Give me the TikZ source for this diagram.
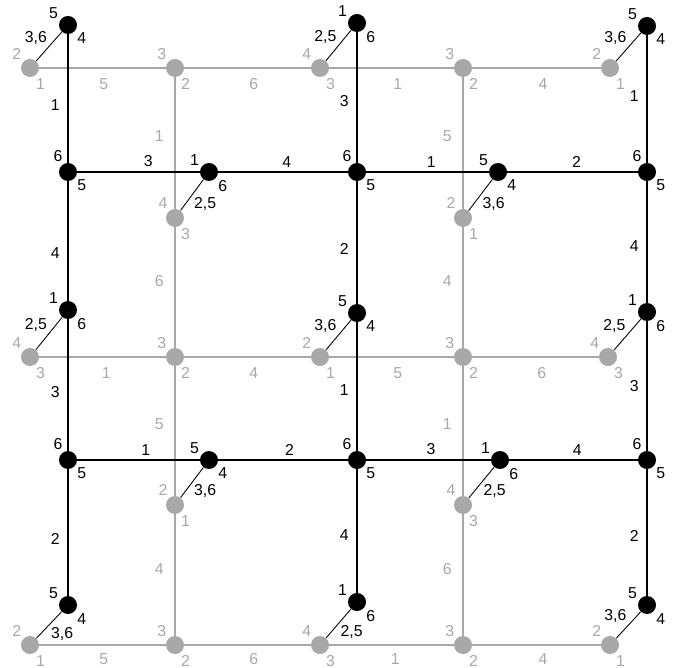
\documentclass[tikz,border=0pt]{standalone}
\usepackage{fontspec}
\setmainfont{Liberation Sans}
\definecolor{backgray}{gray}{0.66}

\begin{document}
\begin{tikzpicture}[
        x=0.02cm, y=-0.02cm,
        font=\fontsize{9}{10.5}\selectfont,
        bnode/.style={circle, fill=black, inner sep=0pt, minimum size=18*0.02cm},
        gnode/.style={circle, fill=backgray, inner sep=0pt, minimum size=18*0.02cm},
        port/.style={inner sep=1pt, label distance=0pt},
        gport/.style={port, text=backgray},
        bline/.style={line width=0.6pt},
        gline/.style={line width=1pt, backgray},
        diag/.style={line width=0.5pt},
        blab/.style={inner sep=1pt},
        glab/.style={inner sep=1pt, text=backgray}
    ]
    \useasboundingbox (0,0) rectangle (682,668);

    % back layer (gray)
    \node[gnode, label={[gport]135:2}, label={[gport]-65:1}] (g00) at (30,68) {};
    \node[gnode, label={[gport]135:3}, label={[gport]-65:2}] (g10) at (175,68) {};
    \node[gnode, label={[gport]135:4}, label={[gport]-65:3}] (g20) at (320,68) {};
    \node[gnode, label={[gport]135:3}, label={[gport]-65:2}] (g30) at (463,68) {};
    \node[gnode, label={[gport]135:2}, label={[gport]-65:1}] (g40) at (610,68) {};
    \node[gnode, label={[gport]125:4}, label={[gport]-65:3}] (g11) at (175,218) {};
    \node[gnode, label={[gport]125:2}, label={[gport]-65:1}] (g31) at (463,218) {};
    \node[gnode, label={[gport]135:4}, label={[gport]-65:3}] (g02) at (30,357) {};
    \node[gnode, label={[gport]135:3}, label={[gport]-65:2}] (g12) at (175,357) {};
    \node[gnode, label={[gport]135:2}, label={[gport]-65:1}] (g22) at (320,357) {};
    \node[gnode, label={[gport]135:3}, label={[gport]-65:2}] (g32) at (463,357) {};
    \node[gnode, label={[gport]135:4}, label={[gport]-65:3}] (g42) at (608,357) {};
    \node[gnode, label={[gport]125:2}, label={[gport]-65:1}] (g13) at (175,505) {};
    \node[gnode, label={[gport]125:4}, label={[gport]-65:3}] (g33) at (463,505) {};
    \node[gnode, label={[gport]135:2}, label={[gport]-65:1}] (g04) at (30,645) {};
    \node[gnode, label={[gport]135:3}, label={[gport]-65:2}] (g14) at (175,645) {};
    \node[gnode, label={[gport]135:4}, label={[gport]-65:3}] (g24) at (320,645) {};
    \node[gnode, label={[gport]135:3}, label={[gport]-65:2}] (g34) at (463,645) {};
    \node[gnode, label={[gport]135:2}, label={[gport]-65:1}] (g44) at (610,645) {};

    % front layer (black)
    \node[bnode, label={[port]150:5}, label={[port]-40:4}] (b00) at (68,25) {};
    \node[bnode, label={[port]150:1}, label={[port]-40:6}] (b20) at (357,23) {};
    \node[bnode, label={[port]150:5}, label={[port]-40:4}] (b40) at (647,26) {};
    \node[bnode, label={[port]112:6}, label={[port]-40:5}] (b01) at (68,172) {};
    \node[bnode, label={[port]150:1}, label={[port]-40:6}] (b11) at (209,172) {};
    \node[bnode, label={[port]112:6}, label={[port]-40:5}] (b21) at (357,172) {};
    \node[bnode, label={[port]150:5}, label={[port]-40:4}] (b31) at (498,172) {};
    \node[bnode, label={[port]112:6}, label={[port]-40:5}] (b41) at (647,172) {};
    \node[bnode, label={[port]150:1}, label={[port]-40:6}] (b02) at (68,310) {};
    \node[bnode, label={[port]150:5}, label={[port]-40:4}] (b22) at (357,313) {};
    \node[bnode, label={[port]150:1}, label={[port]-40:6}] (b42) at (647,312) {};
    \node[bnode, label={[port]112:6}, label={[port]-40:5}] (b03) at (68,460) {};
    \node[bnode, label={[port]150:5}, label={[port]-40:4}] (b13) at (209,460) {};
    \node[bnode, label={[port]112:6}, label={[port]-40:5}] (b23) at (357,460) {};
    \node[bnode, label={[port]150:1}, label={[port]-40:6}] (b33) at (500,460) {};
    \node[bnode, label={[port]112:6}, label={[port]-40:5}] (b43) at (647,460) {};
    \node[bnode, label={[port]150:5}, label={[port]-40:4}] (b04) at (68,605) {};
    \node[bnode, label={[port]150:1}, label={[port]-40:6}] (b24) at (357,602) {};
    \node[bnode, label={[port]150:5}, label={[port]-40:4}] (b44) at (647,605) {};

    % gray rows and columns
    \draw[gline] (g00) -- node[glab, below=4.5pt, pos=.51] {5} (g10)
        -- node[glab, below=4.5pt, pos=.55] {6} (g20)
        -- node[glab, below=4.5pt, pos=.55] {1} (g30)
        -- node[glab, below=4.5pt, pos=.55] {4} (g40);
    \draw[gline] (g02) -- node[glab, below=4.5pt, pos=.53] {1} (g12)
        -- node[glab, below=4.5pt, pos=.55] {4} (g22)
        -- node[glab, below=4.5pt, pos=.55] {5} (g32)
        -- node[glab, below=4.5pt, pos=.55] {6} (g42);
    \draw[gline] (g04) -- node[glab, below=3.5pt, pos=.51] {5} (g14)
        -- node[glab, below=3.5pt, pos=.55] {6} (g24)
        -- node[glab, below=3.5pt, pos=.53] {1} (g34)
        -- node[glab, below=3.5pt, pos=.55] {4} (g44);
    \draw[gline] (g10) -- node[glab, left=5pt, pos=.45] {1} (g11)
        -- node[glab, left=5pt, pos=.45] {6} (g12)
        -- node[glab, left=5pt, pos=.45] {5} (g13)
        -- node[glab, left=5pt, pos=.45] {4} (g14);
    \draw[gline] (g30) -- node[glab, left=5pt, pos=.45] {5} (g31)
        -- node[glab, left=5pt, pos=.45] {4} (g32)
        -- node[glab, left=5pt, pos=.45] {1} (g33)
        -- node[glab, left=5pt, pos=.45] {6} (g34);

    % black rows and columns
    \draw[bline] (b00) -- node[blab, left=3.5pt, pos=.55] {1} (b01)
        -- node[blab, left=3.5pt, pos=.6] {4} (b02)
        -- node[blab, left=3.5pt, pos=.55] {3} (b03)
        -- node[blab, left=3.5pt, pos=.55] {2} (b04);
    \draw[bline] (b20) -- node[blab, left=3.5pt, pos=.53] {3} (b21)
        -- node[blab, left=3.5pt, pos=.55] {2} (b22)
        -- node[blab, left=3.5pt, pos=.53] {1} (b23)
        -- node[blab, left=3.5pt, pos=.53] {4} (b24);
    \draw[bline] (b40) -- node[blab, left=3.5pt, pos=.48] {1} (b41)
        -- node[blab, left=3.5pt, pos=.53] {4} (b42)
        -- node[blab, left=3.5pt, pos=.5] {3} (b43)
        -- node[blab, left=3.5pt, pos=.53] {2} (b44);
    \draw[bline] (b01) -- node[blab, above=1.5pt, pos=.58] {3} (b11)
        -- node[blab, above=1.5pt, pos=.53] {4} (b21)
        -- node[blab, above=1.5pt, pos=.53] {1} (b31)
        -- node[blab, above=1.5pt, pos=.53] {2} (b41);
    \draw[bline] (b03) -- node[blab, above=1.5pt, pos=.56] {1} (b13)
        -- node[blab, above=1.5pt, pos=.55] {2} (b23)
        -- node[blab, above=1.5pt, pos=.52] {3} (b33)
        -- node[blab, above=1.5pt, pos=.53] {4} (b43);

    % links front to back
    \draw[diag] (b00) -- node[blab, above left] {3,6} (g00);
    \draw[diag] (b20) -- node[blab, above left] {2,5} (g20);
    \draw[diag] (b40) -- node[blab, above left] {3,6} (g40);
    \draw[diag] (b11) -- node[blab, below right] {2,5} (g11);
    \draw[diag] (b31) -- node[blab, below right] {3,6} (g31);
    \draw[diag] (b02) -- node[blab, above left] {2,5} (g02);
    \draw[diag] (b22) -- node[blab, above left] {3,6} (g22);
    \draw[diag] (b42) -- node[blab, above left] {2,5} (g42);
    \draw[diag] (b13) -- node[blab, below right] {3,6} (g13);
    \draw[diag] (b33) -- node[blab, below right] {2,5} (g33);
    \draw[diag] (b04) -- node[blab, below right] {3,6} (g04);
    \draw[diag] (b24) -- node[blab, below right] {2,5} (g24);
    \draw[diag] (b44) -- node[blab, above left] {3,6} (g44);
\end{tikzpicture}
\end{document}
